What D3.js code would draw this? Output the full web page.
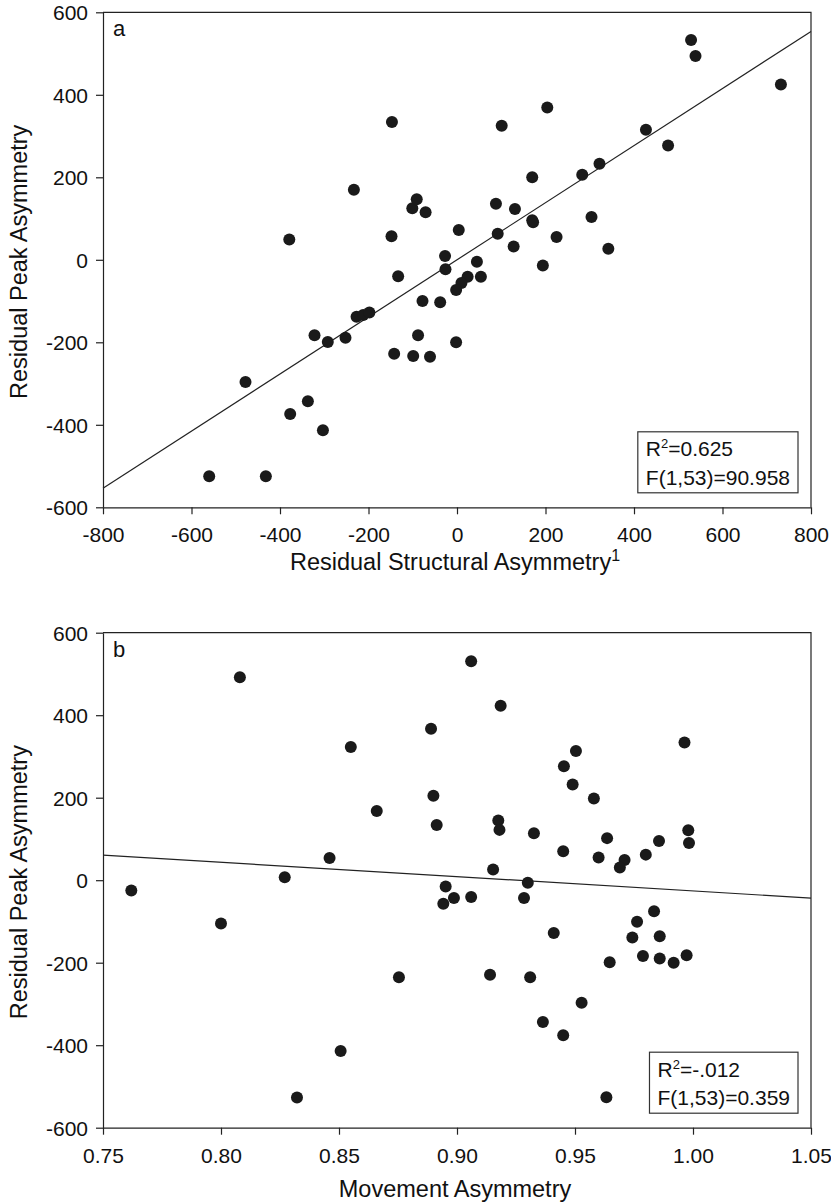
<!DOCTYPE html>
<html>
<head>
<meta charset="utf-8">
<script src="https://cdn.jsdelivr.net/npm/d3@7"></script>
<style>
body { margin: 0; background: #fff; }
text { font-family: "Liberation Sans", Arial, sans-serif; fill: #111; }
</style>
</head>
<body>
<script>

// panel a: residual structural asymmetry vs residual peak asymmetry
var structX = [-147, -233, -379, -148, -133, -101, -91, 529, 539, 732, 204, 101, 427, 477, 322, 283, 170, -71, 88, 131,
	170, 172, 304, 4, 92, 225, 342, 128, -27, -26, 45, 24, 54, 10, -2, 194, -78, -38, -227, -212,
	-198, -322, -292, -252, -142, -99, -88, -61, -2, -478, -377, -337, -303, -560, -432];
var peakA = [334, 170, 49, 57, -40, 125, 147, 533, 494, 425, 369, 325, 315, 277, 233, 206, 200, 115, 136, 123,
	96, 91, 104, 72, 63, 55, 27, 32, 9, -23, -5, -41, -41, -56, -73, -14, -100, -103, -138, -134,
	-128, -183, -199, -189, -228, -233, -183, -235, -200, -296, -374, -343, -413, -525, -525];

// panel b: movement asymmetry vs residual peak asymmetry
var moveX = [0.808, 0.855, 0.866, 0.846, 0.827, 0.762, 0.800, 0.906, 0.9185, 0.889, 0.9964, 0.9504, 0.9453, 0.949, 0.890, 0.958, 0.8914, 0.9175, 0.918, 0.9326,
	0.998, 0.9983, 0.9636, 0.9856, 0.980, 0.945, 0.960, 0.971, 0.969, 0.9153, 0.930, 0.8952, 0.8987, 0.8942, 0.906, 0.9284, 0.9835, 0.9763, 0.941, 0.9743,
	0.9859, 0.9788, 0.9859, 0.9918, 0.9973, 0.9647, 0.914, 0.931, 0.9528, 0.9364, 0.945, 0.9633, 0.8754, 0.8507, 0.8322];
var peakB = [492, 323, 168, 54, 7, -25, -105, 531, 423, 367, 334, 313, 276, 232, 205, 198, 134, 145, 122, 114,
	121, 90, 102, 95, 62, 70, 55, 49, 31, 26, -6, -15, -43, -57, -41, -43, -75, -101, -128, -139,
	-136, -184, -190, -200, -182, -199, -229, -235, -297, -344, -376, -526, -235, -414, -527];

var xTicksA = [-800, -600, -400, -200, 0, 200, 400, 600, 800];
var xTicksB = [0.75, 0.80, 0.85, 0.90, 0.95, 1.00, 1.05];
var yTicks = [-600, -400, -200, 0, 200, 400, 600];

var fitA = [0, 0.692];     // intercept, slope
var fitB = [321, -347];

var statsA = ["0.625", "F(1,53)=90.958"];
var statsB = ["-.012", "F(1,53)=0.359"];

var width = 831,
	height = 1204,
	left = 103,
	right = 811,
	plotH = 495;

var svg = d3.select("body").append("svg")
		.attr("width", width)
		.attr("height", height);

// plain hyphen instead of d3's unicode minus
function hyph(f){
	return function(d){ return f(d).replace("\u2212", "-"); };
}

function panel(opt){
	var top = opt.top, bottom = top + plotH;
	var x = d3.scaleLinear().domain(opt.xDomain).range([left, right]);
	var y = d3.scaleLinear().domain([-600, 600]).range([bottom, top]);
	var g = svg.append("g");

	// frame top + right
	g.append("path")
		.attr("d", "M" + left + "," + top + "H" + right + "V" + bottom)
		.attr("fill", "none")
		.attr("stroke", "#222")
		.attr("stroke-width", 1.2);

	var ya = g.append("g")
		.attr("transform", "translate(" + left + ",0)")
		.call(d3.axisLeft(y).tickValues(yTicks).tickSize(7).tickSizeOuter(0).tickPadding(8).tickFormat(hyph(d3.format("d"))));
	var xa = g.append("g")
		.attr("transform", "translate(0," + bottom + ")")
		.call(d3.axisBottom(x).tickValues(opt.xTicks).tickSize(7).tickSizeOuter(0).tickPadding(13).tickFormat(hyph(opt.fmt)));
	[ya, xa].forEach(function(a){
		a.selectAll("path, line").attr("stroke", "#222").attr("stroke-width", 1.2);
		a.selectAll("text").attr("font-size", 21).attr("fill", "#111")
			.attr("font-family", "'Liberation Sans', Arial, sans-serif");
	});
	ya.selectAll("text").attr("dy", "0.36em");

	// regression line
	var x0 = opt.xDomain[0], x1 = opt.xDomain[1];
	g.append("line")
		.attr("x1", x(x0)).attr("y1", y(opt.fit[0] + opt.fit[1]*x0))
		.attr("x2", x(x1)).attr("y2", y(opt.fit[0] + opt.fit[1]*x1))
		.attr("stroke", "#222")
		.attr("stroke-width", 1.2);

	g.selectAll("circle")
			.data(opt.xs)
		.enter().append("circle")
			.attr("cx", function(d){return x(d);})
			.attr("cy", function(d, i){return y(opt.ys[i]);})
			.attr("r", 6)
			.attr("fill", "#1a1a1a");

	g.append("text")
		.attr("x", 113)
		.attr("y", top + 24)
		.attr("font-size", 22)
		.text(opt.label);

	// stats box
	var boxTop = bottom - 14.5 - 61;
	var st = g.append("g");
	var t1 = st.append("text").attr("y", boxTop + 24.5).attr("font-size", 21);
	t1.append("tspan").text("R");
	t1.append("tspan").attr("font-size", 13).attr("dy", -8).text("2");
	t1.append("tspan").attr("dy", 8).text("=" + opt.stats[0]);
	st.append("text").attr("y", boxTop + 52.7).attr("font-size", 21).text(opt.stats[1]);
	var bw = st.node().getBBox().width;
	var bx = right - 13 - bw - 16;
	st.selectAll("text").attr("x", bx + 8);
	st.select("text").select("tspan").attr("x", bx + 8);
	st.insert("rect", "text")
		.attr("x", bx).attr("y", boxTop)
		.attr("width", bw + 16).attr("height", 61)
		.attr("fill", "#fff")
		.attr("stroke", "#333")
		.attr("stroke-width", 1.2);

	// axis titles
	var xt = g.append("text")
		.attr("x", (left + right)/2 - 2)
		.attr("y", opt.titleY)
		.attr("text-anchor", "middle")
		.attr("font-size", 23.5);
	xt.append("tspan").text(opt.xTitle);
	if(opt.sup){
		xt.append("tspan").attr("font-size", 16).attr("dy", -9).text(opt.sup);
	}

	g.append("text")
		.attr("transform", "rotate(-90)")
		.attr("x", -(top + bottom)/2 - 2)
		.attr("y", 27)
		.attr("text-anchor", "middle")
		.attr("font-size", 23.5)
		.text("Residual Peak Asymmetry");
}

panel({top: 12.3, xDomain: [-800, 800], xTicks: xTicksA, fmt: d3.format("d"), xs: structX, ys: peakA,
	fit: fitA, stats: statsA, label: "a", xTitle: "Residual Structural Asymmetry", sup: "1", titleY: 570});
panel({top: 632.7, xDomain: [0.75, 1.05], xTicks: xTicksB, fmt: d3.format(".2f"), xs: moveX, ys: peakB,
	fit: fitB, stats: statsB, label: "b", xTitle: "Movement Asymmetry", sup: null, titleY: 1196.5});

</script>
</body>
</html>
